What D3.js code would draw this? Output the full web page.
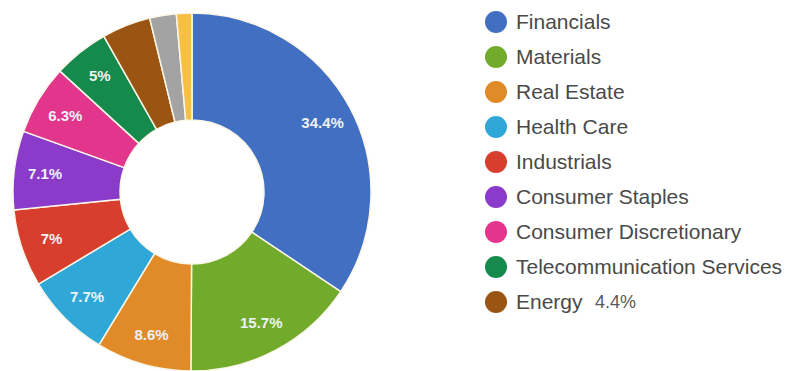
<!DOCTYPE html>
<html><head><meta charset="utf-8">
<script src="https://cdn.jsdelivr.net/npm/d3@7"></script>
<style>html,body{margin:0;padding:0;background:#fff;}svg{display:block;}</style>
</head><body>
<svg id="c" width="786" height="371"></svg>
<script>
const categories = ["Financials","Materials","Real Estate","Health Care","Industrials","Consumer Staples","Consumer Discretionary","Telecommunication Services","Energy","Other A","Other B"];
const values = [34.4,15.7,8.6,7.7,7,7.1,6.3,5,4.4,2.4,1.4];
const colors = ["#4170c2","#72aa2c","#e08a28","#2fa8d8","#d83e2e","#8a3bc9","#e2358c","#168a4c","#9b5512","#a3a3a3","#f6c044"];
const legendCount = 9;
const legendNote = {8:"4.4%"};

const svg = d3.select("#c");
const cx = 192, cy = 192, R = 179, r = 72;
const pie = d3.pie().sort(null).value(d=>d.v);
const data = pie(categories.map((c,i)=>({c, v:values[i], col:colors[i]})));
const arc = d3.arc().innerRadius(r).outerRadius(R);
const labelArc = d3.arc().innerRadius(148).outerRadius(148);
const g = svg.append("g").attr("transform",`translate(${cx},${cy})`);
g.selectAll("path").data(data).join("path")
  .attr("d",arc).attr("fill",d=>d.data.col)
  .attr("stroke","#fbf6e8").attr("stroke-width",1.5);
g.selectAll("text").data(data.filter(d=>d.data.v>=5)).join("text")
  .attr("transform",d=>`translate(${labelArc.centroid(d)})`)
  .attr("text-anchor","middle").attr("dy","0.35em")
  .attr("font-family","Arial, Liberation Sans, sans-serif").attr("font-size",15).attr("font-weight","bold")
  .attr("fill","#eef2f6")
  .text(d=>d.data.v+"%");

const lg = svg.append("g");
const rowY = d3.scaleLinear().domain([0,1]).range([22,57]);
categories.slice(0,legendCount).forEach((c,i)=>{
  const y = rowY(i);
  lg.append("circle").attr("cx",496).attr("cy",y).attr("r",11).attr("fill",colors[i]);
  lg.append("text").attr("x",516).attr("y",y).attr("dy","0.35em")
    .attr("font-family","Arial, Liberation Sans, sans-serif").attr("font-size",21).attr("fill","#4a4a4a").text(c);
  if(legendNote[i]){
    lg.append("text").attr("x",595).attr("y",y).attr("dy","0.35em")
      .attr("font-family","Arial, Liberation Sans, sans-serif").attr("font-size",18).attr("fill","#5a5a5a").text(legendNote[i]);
  }
});
</script>
</body></html>
